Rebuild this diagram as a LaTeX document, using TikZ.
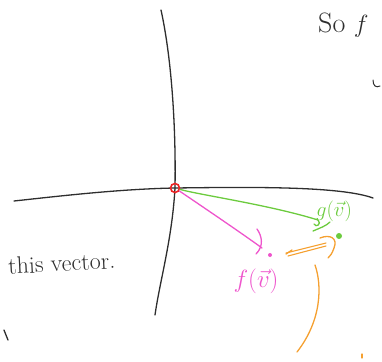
\documentclass[tikz,border=0pt]{standalone}
\usetikzlibrary{arrows.meta}
\definecolor{ink}{HTML}{2E2E2E}
\definecolor{pen red}{HTML}{EE2222}
\definecolor{pen green}{HTML}{6CCB3E}
\definecolor{pen pink}{HTML}{EE55CC}
\definecolor{pen orange}{HTML}{F5A030}
\tikzset{
  axisline/.style={ink, line width=1.3pt, line cap=round},
  handtext/.style={inner sep=0pt, font=\fontsize{24}{26}\selectfont},
  greenpen/.style={pen green, line width=1.3pt, line cap=round},
  pinkpen/.style={pen pink, line width=1.3pt, line cap=round},
  orangepen/.style={pen orange, line width=1.3pt, line cap=round},
}
\begin{document}
\begin{tikzpicture}[x=1pt, y=-1pt]
\useasboundingbox (0,0) rectangle (382,361);
% axes
\coordinate (ytop) at (161,10);
\coordinate (ybot) at (155,315);
\coordinate (xleft) at (14,201);
\coordinate (xright) at (373,198);
\coordinate (O) at (175,188);
\draw[axisline] (ytop) .. controls (172,60) and (176,130) .. (O) .. controls (172,240) and (160,280) .. (ybot);
\draw[axisline] (xleft) .. controls (60,196) and (120,189) .. (O) .. controls (250,187) and (340,186) .. (xright);
% origin
\node[draw=pen red, line width=1.6pt, circle, minimum size=9pt, inner sep=0pt] (orig) at (O) {};
% points
\node[fill=pen pink, circle, minimum size=4pt, inner sep=0pt] (fpt) at (270,255) {};
\node[fill=pen green, circle, minimum size=6pt, inner sep=0pt] (gpt) at (339,236) {};
% labels
\node[handtext, pen pink, font=\fontsize{28}{30}\selectfont] (flab) at (256,281) {$f(\vec{v})$};
\node[handtext, pen green, font=\fontsize{21}{23}\selectfont] (glab) at (334,211) {$g(\vec{v})$};
\node[handtext, ink, rotate=3, anchor=west] (this) at (8,266) {this vector.};
\node[handtext, ink, anchor=west, font=\fontsize{28}{30}\selectfont] (sof) at (318,25) {So $f$};
\draw[axisline, line width=1pt] (373,80) .. controls (373,86) and (376,88) .. (380,86);
% pink vector
\draw[pinkpen] (orig) .. controls (200,205) and (240,232) .. (262,248);
\draw[pinkpen] (257,229) .. controls (262,236) and (264,246) .. (256,254);
% green vector
\draw[greenpen] (orig) .. controls (200,195) and (270,205) .. (318,220);
\draw[greenpen] (318,220) .. controls (322,224) and (316,228) .. (314,224);
\draw[greenpen] (313,231) .. controls (320,228) and (326,226) .. (330,222);
% orange difference arrow
\draw[orangepen, line width=1.1pt] (286,253) -- (326,243);
\draw[orangepen, line width=1.1pt] (288,256) -- (326,246);
\draw[orangepen] (286,254) -- (292,250);
\draw[orangepen] (320,238) .. controls (330,234) and (338,238) .. (334,248) .. controls (332,254) and (330,256) .. (328,258);
% orange long curve
\coordinate (otop) at (315,265);
\coordinate (obot) at (297,352);
\draw[orangepen] (otop) .. controls (322,285) and (322,320) .. (obot);
\draw[orangepen] (362,354) -- (362,358);
% stray ink
\draw[axisline] (4,330) -- (8,340);
\end{tikzpicture}
\end{document}
